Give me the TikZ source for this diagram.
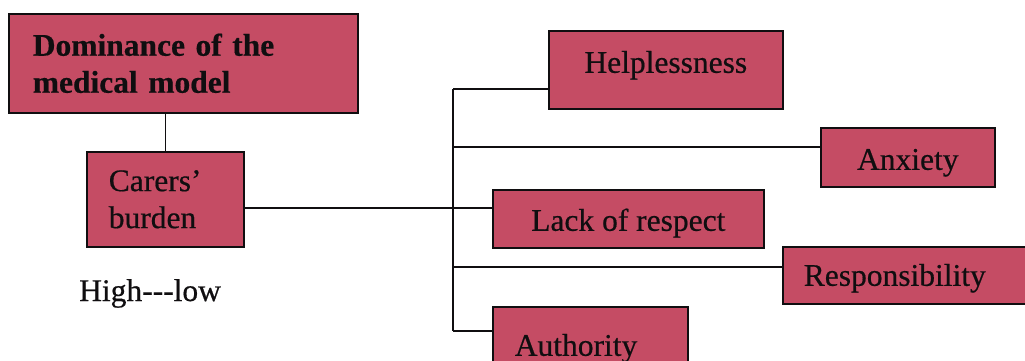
\documentclass[tikz,border=0pt]{standalone}
\usepackage{fontspec}
\setmainfont{Liberation Serif}[FakeBold=0.5]
\definecolor{boxfill}{RGB}{197,76,100}
\definecolor{ink}{RGB}{16,14,16}
\begin{document}
\begin{tikzpicture}[x=1pt,y=-1pt,
  box/.style={draw=ink, line width=1.6pt, fill=boxfill, anchor=north west,
    inner ysep=0pt, text=ink, font=\fontsize{31.5}{37}\selectfont},
  cbox/.style={box, inner xsep=0pt, text height=36pt},
  lbox/.style={box, align=left},
  wire/.style={draw=ink, line width=1.4pt}]
  % page frame
  \clip (0,0) rectangle (1025,361);
  \fill[white] (0,0) rectangle (1025,361);

  % main boxes on the left
  \node[lbox, inner xsep=24pt, text width=301pt, minimum height=99pt] (dom) at (8,13)
    {\bfseries Dominance of the\\\bfseries medical model};
  \node[lbox, inner xsep=22pt, text width=113pt, minimum height=95pt] (carers) at (86,151)
    {Carers’\\burden};
  \node[anchor=base west, inner sep=0pt, text=ink, font=\fontsize{31.5}{37}\selectfont]
    (scale) at (79,301) {High-{}-{}-low};

  % burden components
  \node[cbox, minimum width=234pt, minimum height=78pt, text depth=30pt] (help) at (548,30) {Helplessness};
  \node[cbox, minimum width=174pt, minimum height=59pt, text depth=11pt] (anx) at (820,127) {Anxiety};
  \node[cbox, minimum width=271pt, minimum height=58pt, text depth=12pt] (lack) at (492,189) {Lack of respect};
  \node[lbox, inner xsep=21pt, text width=228pt, minimum height=57pt, text height=36pt, text depth=15pt]
    (resp) at (782,246) {Responsibility};
  \node[lbox, inner xsep=22pt, text width=151pt, minimum height=70pt, text height=36pt, text depth=8pt]
    (auth) at (492,306) {Authority};

  % trunk junctions
  \coordinate (t1) at (453,89);
  \coordinate (t2) at (453,147);
  \coordinate (t3) at (453,208);
  \coordinate (t4) at (453,267);
  \coordinate (t5) at (453,331);

  % connectors
  \draw[wire] (carers.north) -- (carers.north |- dom.south);
  \draw[wire] (carers.east |- t3) -- (lack.west |- t3);
  \draw[wire] (t1) -- (t5);
  \draw[wire] (t1) -- (help.west |- t1);
  \draw[wire] (t2) -- (anx.west |- t2);
  \draw[wire] (t4) -- (resp.west |- t4);
  \draw[wire] (t5) -- (auth.west |- t5);
\end{tikzpicture}
\end{document}
